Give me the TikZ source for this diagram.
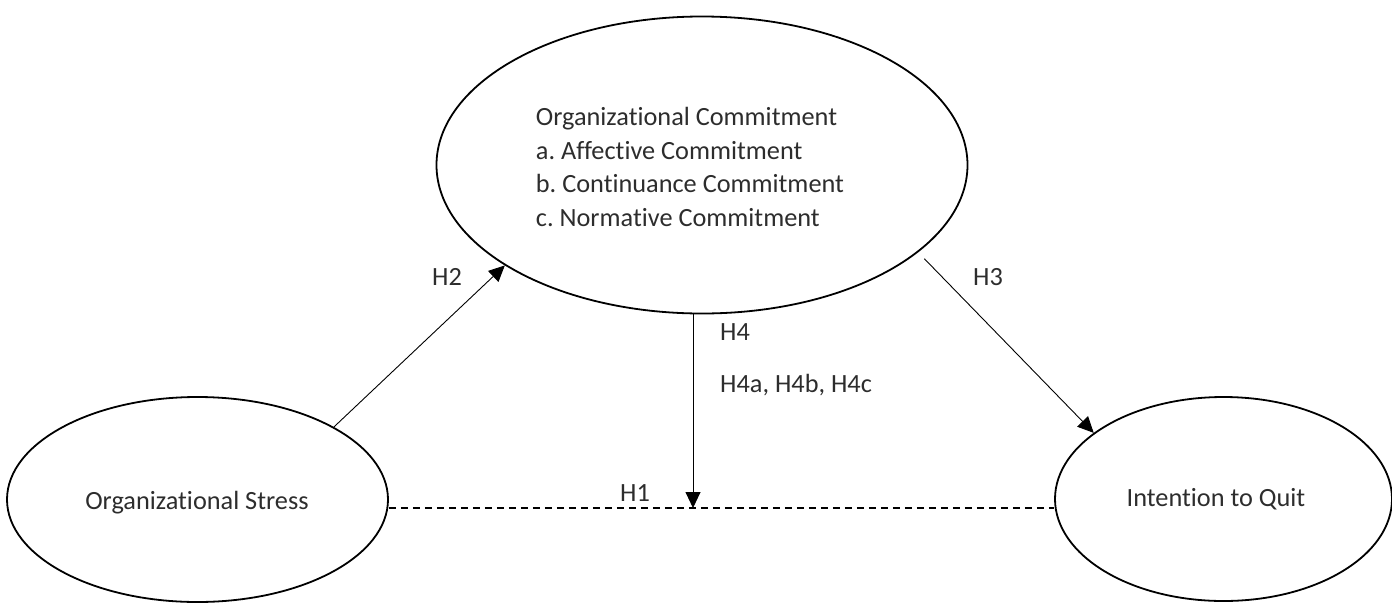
\documentclass[tikz,border=0pt]{standalone}
\usepackage{fontspec}
\setmainfont{Carlito}[Ligatures=NoCommon]
\usetikzlibrary{shapes.geometric,arrows.meta}
\definecolor{txt}{RGB}{45,45,45}
\frenchspacing
\tikzset{
  oval/.style={draw=black, line width=1.8pt, ellipse, inner sep=0pt},
  lbl/.style={text=txt, font=\fontsize{26.3}{33.5}\selectfont, inner sep=0pt},
  arr/.style={line width=0.9pt, -{Triangle[length=16pt,width=15pt]}},
  dsh/.style={line width=1.3pt, dash pattern=on 7pt off 5pt}
}
\begin{document}
\begin{tikzpicture}[x=1pt,y=-1pt]
\useasboundingbox (0,0) rectangle (1392,603);
\node[oval, minimum width=531pt, minimum height=297pt] (oc) at (702,165) {};
\node[oval, minimum width=381pt, minimum height=205pt] (os) at (197.5,499.5) {};
\node[oval, minimum width=337pt, minimum height=204pt] (iq) at (1223.5,499) {};
\node[lbl, align=left] (octxt) at (690,167) {Organizational Commitment\\a. Affective Commitment\\b. Continuance Commitment\\c. Normative Commitment};
\node[lbl] (ostxt) at (197,503) {Organizational Stress};
\node[lbl] (iqtxt) at (1216,499) {Intention to Quit};
\coordinate (m) at (693,508);
\draw[dsh] (os.east |- m) -- (iq.west |- m);
\draw[arr] (os.28) -- (oc.207.8);
\draw[arr, shorten <=9pt] (oc.338.1) -- (iq.153.6);
\draw[arr] (oc.south -| m) -- (m);
\node[lbl] (h2) at (447,277) {H2};
\node[lbl] (h3) at (988,277) {H3};
\node[lbl, anchor=west] (h4) at (720,332) {H4};
\node[lbl, anchor=west] (h4abc) at (720,385) {H4a, H4b, H4c};
\node[lbl] (h1) at (635,493) {H1};
\end{tikzpicture}
\end{document}
